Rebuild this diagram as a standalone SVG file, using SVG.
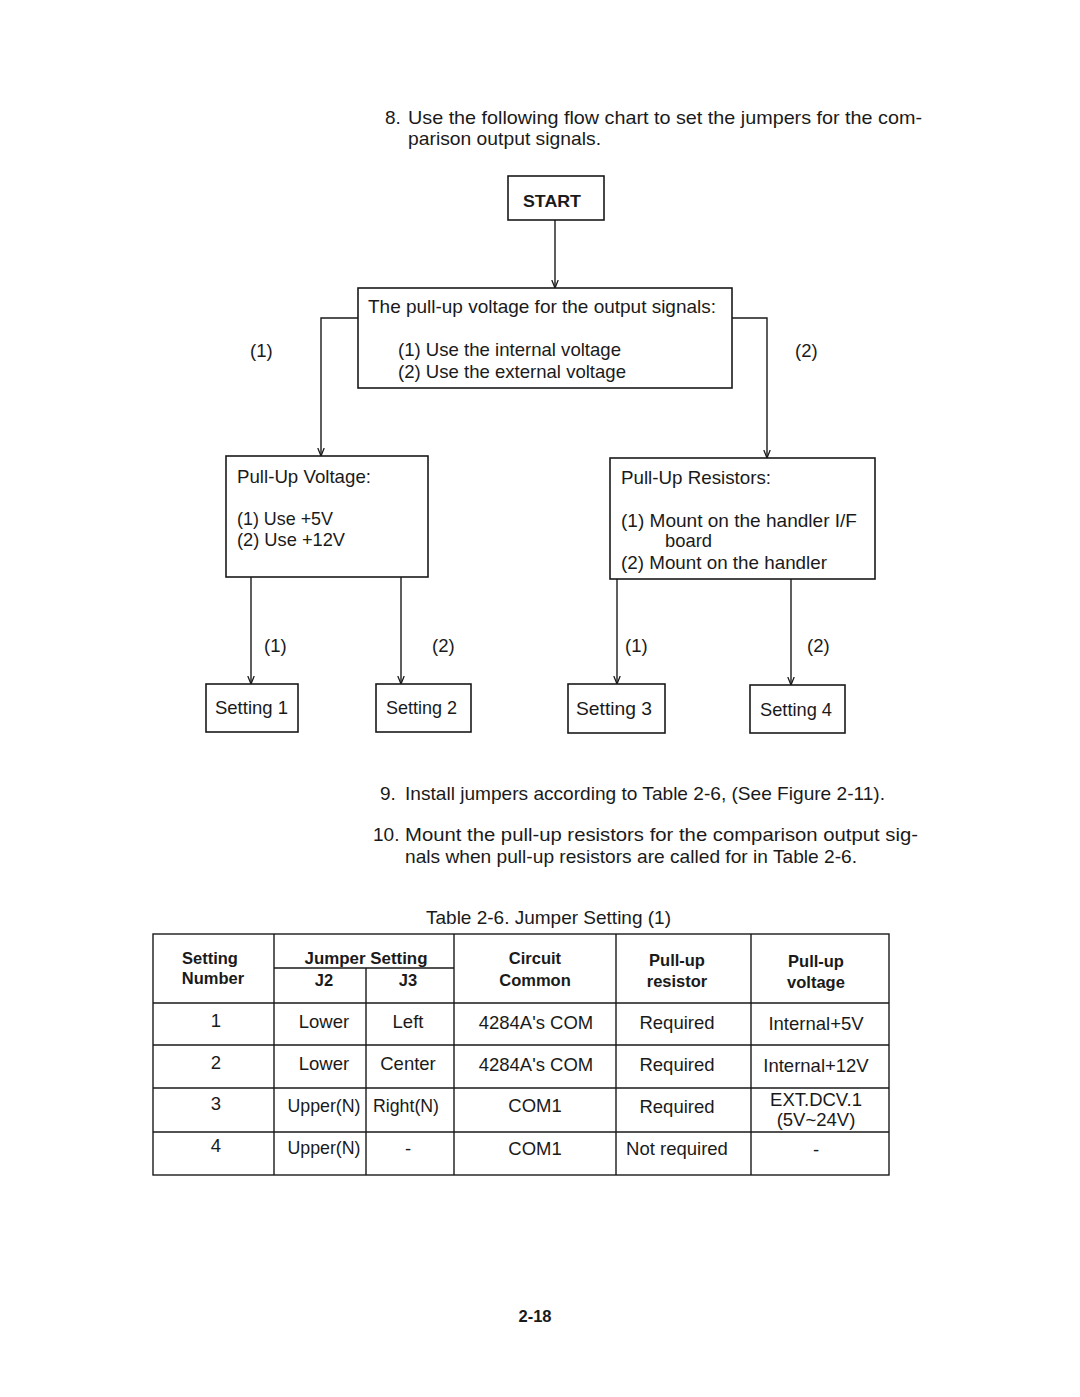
<svg xmlns="http://www.w3.org/2000/svg" width="1080" height="1397" viewBox="0 0 1080 1397">
<style>
text{font-family:"Liberation Sans",Arial,sans-serif;fill:#1a1a1a}
.t{font-size:19px}
.b{font-size:18.5px}
.tb{font-size:18.5px}
.bb{font-size:16.5px;font-weight:bold}
.c{text-anchor:middle}
.box{fill:none;stroke:#1a1a1a;stroke-width:1.6}
.ln{fill:none;stroke:#1a1a1a;stroke-width:1.4}
.tl{fill:none;stroke:#1a1a1a;stroke-width:1.4}
</style>
<defs>
<marker id="ah" viewBox="0 0 10 10" refX="10" refY="5" markerWidth="8" markerHeight="8" orient="auto" markerUnits="userSpaceOnUse">
<path d="M0,1 L10,5 L0,9" fill="none" stroke="#1a1a1a" stroke-width="1.6"/>
</marker>
</defs>
<rect width="1080" height="1397" fill="#fff"/>

<g id="para8">
<text class="t" x="385" y="124">8.</text>
<text class="t" x="408" y="124" textLength="514" lengthAdjust="spacingAndGlyphs">Use the following flow chart to set the jumpers for the com-</text>
<text class="t" x="408" y="145" textLength="193" lengthAdjust="spacingAndGlyphs">parison output signals.</text>
</g>

<g id="start"><rect class="box" x="508" y="176" width="96" height="44"/><text class="bb c" x="552" y="207" textLength="58" lengthAdjust="spacingAndGlyphs">START</text></g>

<g id="question">
<rect class="box" x="358" y="288" width="374" height="100"/>
<text class="b" x="368" y="313" textLength="348" lengthAdjust="spacingAndGlyphs">The pull-up voltage for the output signals:</text>
<text class="b" x="398" y="356" textLength="223" lengthAdjust="spacingAndGlyphs">(1) Use the internal voltage</text>
<text class="b" x="398" y="378" textLength="228" lengthAdjust="spacingAndGlyphs">(2) Use the external voltage</text>
</g>

<g id="pullupV">
<rect class="box" x="226" y="456" width="202" height="121"/>
<text class="b" x="237" y="483" textLength="134" lengthAdjust="spacingAndGlyphs">Pull-Up Voltage:</text>
<text class="b" x="237" y="525" textLength="96" lengthAdjust="spacingAndGlyphs">(1) Use +5V</text>
<text class="b" x="237" y="546" textLength="108" lengthAdjust="spacingAndGlyphs">(2) Use +12V</text>
</g>

<g id="pullupR">
<rect class="box" x="610" y="458" width="265" height="121"/>
<text class="b" x="621" y="484" textLength="150" lengthAdjust="spacingAndGlyphs">Pull-Up Resistors:</text>
<text class="b" x="621" y="527" textLength="236" lengthAdjust="spacingAndGlyphs">(1) Mount on the handler I/F</text>
<text class="b" x="665" y="547" textLength="47" lengthAdjust="spacingAndGlyphs">board</text>
<text class="b" x="621" y="569" textLength="206" lengthAdjust="spacingAndGlyphs">(2) Mount on the handler</text>
</g>

<g id="s1"><rect class="box" x="206" y="684" width="92" height="48"/><text class="b" x="215" y="714" textLength="73" lengthAdjust="spacingAndGlyphs">Setting 1</text></g>
<g id="s2"><rect class="box" x="376" y="684" width="95" height="48"/><text class="b" x="386" y="714" textLength="71" lengthAdjust="spacingAndGlyphs">Setting 2</text></g>
<g id="s3"><rect class="box" x="568" y="684" width="97" height="49"/><text class="b" x="576" y="715" textLength="76" lengthAdjust="spacingAndGlyphs">Setting 3</text></g>
<g id="s4"><rect class="box" x="750" y="685" width="95" height="48"/><text class="b" x="760" y="716" textLength="72" lengthAdjust="spacingAndGlyphs">Setting 4</text></g>

<g id="connectors">
<path class="ln" d="M555,220 V288" marker-end="url(#ah)"/>
<path class="ln" d="M358,318 H321 V456" marker-end="url(#ah)"/>
<path class="ln" d="M732,318 H767 V458" marker-end="url(#ah)"/>
<path class="ln" d="M251,577 V684" marker-end="url(#ah)"/>
<path class="ln" d="M401,577 V684" marker-end="url(#ah)"/>
<path class="ln" d="M617,579 V684" marker-end="url(#ah)"/>
<path class="ln" d="M791,579 V685" marker-end="url(#ah)"/>
<text class="b" x="250" y="357">(1)</text>
<text class="b" x="795" y="357">(2)</text>
<text class="b" x="264" y="652">(1)</text>
<text class="b" x="432" y="652">(2)</text>
<text class="b" x="625" y="652">(1)</text>
<text class="b" x="807" y="652">(2)</text>
</g>

<g id="para9">
<text class="t" x="380" y="800">9.</text>
<text class="t" x="405" y="800" textLength="480" lengthAdjust="spacingAndGlyphs">Install jumpers according to Table 2-6, (See Figure 2-11).</text>
</g>
<g id="para10">
<text class="t" x="373" y="841">10.</text>
<text class="t" x="405" y="841" textLength="513" lengthAdjust="spacingAndGlyphs">Mount the pull-up resistors for the comparison output sig-</text>
<text class="t" x="405" y="863" textLength="452" lengthAdjust="spacingAndGlyphs">nals when pull-up resistors are called for in Table 2-6.</text>
</g>

<g id="table">
<text class="t" x="426" y="924" textLength="245" lengthAdjust="spacingAndGlyphs">Table 2-6. Jumper Setting (1)</text>
<rect class="tl" x="153" y="934" width="736" height="241"/>
<path class="tl" d="M274,934 V1175 M366,968 V1175 M454,934 V1175 M616,934 V1175 M751,934 V1175 M274,968 H454 M153,1003 H889 M153,1045 H889 M153,1088 H889 M153,1132 H889"/>
<g class="bb c">
<text x="210" y="964">Setting</text>
<text x="213" y="984">Number</text>
<text x="366" y="964" textLength="123" lengthAdjust="spacingAndGlyphs">Jumper Setting</text>
<text x="324" y="986">J2</text>
<text x="408" y="986">J3</text>
<text x="535" y="964">Circuit</text>
<text x="535" y="986">Common</text>
<text x="677" y="966">Pull-up</text>
<text x="677" y="987">resistor</text>
<text x="816" y="967">Pull-up</text>
<text x="816" y="988">voltage</text>
</g>
<g class="tb c">
<text x="216" y="1027">1</text><text x="324" y="1028">Lower</text><text x="408" y="1028">Left</text><text x="536" y="1029">4284A's COM</text><text x="677" y="1029">Required</text><text x="816" y="1030">Internal+5V</text>
<text x="216" y="1069">2</text><text x="324" y="1070">Lower</text><text x="408" y="1070">Center</text><text x="536" y="1071">4284A's COM</text><text x="677" y="1071">Required</text><text x="816" y="1072">Internal+12V</text>
<text x="216" y="1110">3</text><text x="324" y="1112" textLength="73" lengthAdjust="spacingAndGlyphs">Upper(N)</text><text x="406" y="1112" textLength="66" lengthAdjust="spacingAndGlyphs">Right(N)</text><text x="535" y="1112">COM1</text><text x="677" y="1113">Required</text><text x="816" y="1106">EXT.DCV.1</text><text x="816" y="1126">(5V~24V)</text>
<text x="216" y="1152">4</text><text x="324" y="1154" textLength="73" lengthAdjust="spacingAndGlyphs">Upper(N)</text><text x="408" y="1155">-</text><text x="535" y="1155">COM1</text><text x="677" y="1155">Not required</text><text x="816" y="1156">-</text>
</g>
</g>

<text class="bb c" x="535" y="1322">2-18</text>
</svg>
